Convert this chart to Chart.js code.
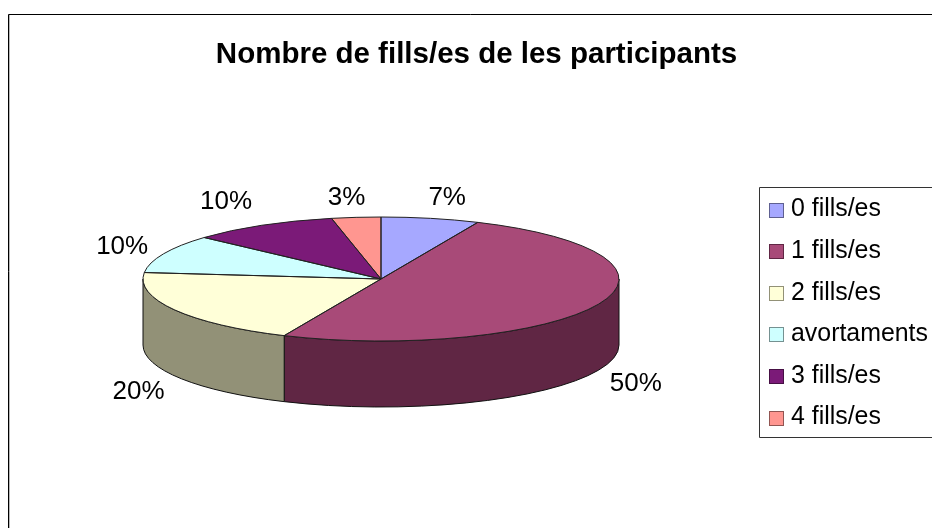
<!DOCTYPE html>
<html>
<head>
<meta charset="utf-8">
<title>Nombre de fills/es de les participants</title>
<script src="https://cdn.jsdelivr.net/npm/chart.js@4"></script>
<style>
  html, body { margin: 0; padding: 0; background: #fff; overflow: hidden; }
  canvas { display: block; }
</style>
</head>
<body>
<canvas id="pie" width="932" height="528"></canvas>
<script>
const titleText = 'Nombre de fills/es de les participants';
const categories = ['0 fills/es', '1 fills/es', '2 fills/es', 'avortaments', '3 fills/es', '4 fills/es'];
const counts = [2, 15, 6, 3, 3, 1];
const percentLabels = ['7%', '50%', '20%', '10%', '10%', '3%'];
const topColors = ['#a6a8ff', '#a84a78', '#ffffd8', '#ceffff', '#7b1a78', '#ff9690'];
const sideColors = ['#5f6091', '#602644', '#929177', '#759191', '#460f44', '#915552'];

const FONT = '"Liberation Sans", Arial, sans-serif';
const SQUASH = 62 / 238;   // tilt of the pie
const DEPTH = 66;
const labelNudge = [[0, 1], [-1, 1], [0, 1], [3, 2], [0, -4], [-1, 2]];   // excel places them by hand-ish

// 3D look: the library lays out and fills the arcs, we squash them and add the wall
const pie3d = {
  id: 'pie3d',
  afterLayout(chart) {
    // title is centred over the whole frame, not over the pie
    chart.titleBlock.left += 95.5;
    chart.titleBlock.right += 95.5;
  },
  beforeDraw(chart) {
    const ctx = chart.ctx;
    ctx.save();
    ctx.fillStyle = '#fff';
    ctx.fillRect(0, 0, chart.width, chart.height);
    // outer frame, the right and bottom sides fall off the picture
    ctx.strokeStyle = '#b8b8b8';
    ctx.lineWidth = 1;
    ctx.beginPath();
    ctx.moveTo(9.5, 15);
    ctx.lineTo(9.5, chart.height);
    ctx.stroke();
    ctx.strokeStyle = '#000';
    ctx.beginPath();
    ctx.moveTo(8.5, chart.height);
    ctx.lineTo(8.5, 14.5);
    ctx.lineTo(chart.width, 14.5);
    ctx.stroke();
    ctx.restore();
  },
  beforeDatasetsDraw(chart) {
    const ctx = chart.ctx;
    const arcs = chart.getDatasetMeta(0).data;
    arcs.forEach((arc, i) => {
      const a = Math.max(arc.startAngle, 0);
      const b = Math.min(arc.endAngle, Math.PI);
      if (b <= a) return;
      const ry = arc.outerRadius * SQUASH;
      ctx.save();
      ctx.beginPath();
      ctx.ellipse(arc.x, arc.y, arc.outerRadius, ry, 0, a, b);
      ctx.ellipse(arc.x, arc.y + DEPTH, arc.outerRadius, ry, 0, b, a, true);
      ctx.closePath();
      ctx.fillStyle = sideColors[i];
      ctx.fill();
      ctx.strokeStyle = '#111';
      ctx.lineWidth = 1;
      ctx.stroke();
      ctx.restore();
    });
    const cy = arcs[0].y;
    ctx.save();
    ctx.translate(0, cy);
    ctx.scale(1, SQUASH);
    ctx.translate(0, -cy);
  },
  afterDatasetsDraw(chart) {
    const ctx = chart.ctx;
    ctx.restore();
    const arcs = chart.getDatasetMeta(0).data;
    ctx.save();
    ctx.strokeStyle = '#222';
    ctx.lineWidth = 1;
    arcs.forEach(arc => {
      ctx.beginPath();
      ctx.moveTo(arc.x, arc.y);
      ctx.ellipse(arc.x, arc.y, arc.outerRadius, arc.outerRadius * SQUASH, 0, arc.startAngle, arc.endAngle);
      ctx.closePath();
      ctx.stroke();
    });
    // percent labels around the pie
    ctx.fillStyle = '#000';
    ctx.font = '26px ' + FONT;
    ctx.textAlign = 'center';
    ctx.textBaseline = 'middle';
    arcs.forEach((arc, i) => {
      const mid = (arc.startAngle + arc.endAngle) / 2 + Math.PI / 2;
      const up = Math.cos(mid);
      const kx = 280 + 40 * Math.max(up, 0) * Math.max(up, 0);
      const x = arc.x + kx * Math.sin(mid) + labelNudge[i][0];
      const y = arc.y - 84 * up + (up < 0 ? 70 : 0) + labelNudge[i][1];
      ctx.fillText(percentLabels[i], x, y);
    });
    ctx.restore();
  },
  afterDraw(chart) {
    // legend box, open on the right where the picture ends
    const ctx = chart.ctx;
    ctx.save();
    ctx.strokeStyle = '#333';
    ctx.lineWidth = 1;
    ctx.beginPath();
    ctx.moveTo(chart.width, 187.5);
    ctx.lineTo(759.5, 187.5);
    ctx.lineTo(759.5, 437.5);
    ctx.lineTo(chart.width, 437.5);
    ctx.stroke();
    ctx.font = '24.9px ' + FONT;
    ctx.textAlign = 'left';
    ctx.textBaseline = 'middle';
    categories.forEach((name, i) => {
      const y = 209.5 + i * 41.6;
      ctx.fillStyle = topColors[i];
      ctx.fillRect(769.5, Math.round(y - 7) + 0.5, 14, 14);
      ctx.strokeStyle = sideColors[i];
      ctx.strokeRect(769.5, Math.round(y - 7) + 0.5, 14, 14);
      ctx.fillStyle = '#000';
      ctx.fillText(name, 791, y);
    });
    ctx.restore();
  }
};

new Chart(document.getElementById('pie'), {
  type: 'pie',
  data: {
    labels: categories,
    datasets: [{
      data: counts,
      backgroundColor: topColors,
      borderWidth: 0
    }]
  },
  options: {
    responsive: false,
    animation: false,
    layout: { padding: { left: 3, right: 173, top: 0, bottom: 11 } },
    plugins: {
      legend: { display: false },
      tooltip: { enabled: false },
      title: {
        display: true,
        text: titleText,
        color: '#000',
        font: { family: FONT, size: 29.5, weight: 'bold', lineHeight: 1.2 },
        padding: { top: 37.3, bottom: -31.7 }
      }
    }
  },
  plugins: [pie3d]
});
</script>
</body>
</html>
